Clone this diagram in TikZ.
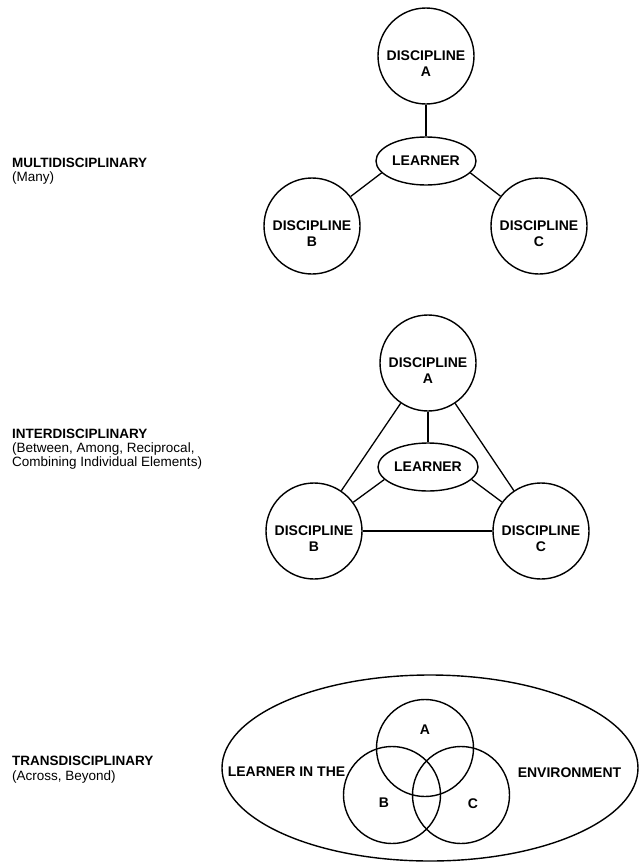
\documentclass[tikz,border=0pt]{standalone}
\usepackage{fontspec}
\setmainfont{Liberation Sans}
\usetikzlibrary{shapes.geometric}
\begin{document}
\begin{tikzpicture}[x=1pt,y=-1pt,
  conn/.style={line width=1.3pt},
  disc/.style={circle, draw, minimum size=96pt, inner sep=0pt, line width=1.4pt},
  vdisc/.style={circle, draw, minimum size=97pt, inner sep=0pt, line width=1.4pt},
  lrn/.style={ellipse, draw, minimum width=100pt, minimum height=48pt, inner sep=0pt, line width=1.4pt},
  env/.style={ellipse, draw, minimum width=416pt, minimum height=186pt, inner sep=0pt, line width=1.4pt},
  dtxt/.style={inner sep=0pt, font=\fontsize{14}{16}\selectfont\bfseries},
  head/.style={anchor=base west, inner sep=0pt, font=\fontsize{13.5}{15}\selectfont\bfseries},
  sub/.style={anchor=base west, inner sep=0pt, font=\fontsize{13.5}{15}\selectfont}]
\fill[white] (0,0) rectangle (642,865);
\useasboundingbox (0,0) rectangle (642,865);

% ---------- Multidisciplinary ----------
\node[head] (multi) at (12,167) {MULTIDISCIPLINARY};
\node[sub] (multisub) at (12,181) {(Many)};

\node[disc] (mA) at (426,56) {};
\node[lrn]  (mL) at (426,161) {};
\node[disc] (mB) at (312,226) {};
\node[disc] (mC) at (539,226) {};
\node[dtxt] (mAt) at (426,56) {DISCIPLINE};
\node[dtxt] (mAl) at (426,72) {A};
\node[dtxt] (mLt) at (426,161) {LEARNER};
\node[dtxt] (mBt) at (312,226) {DISCIPLINE};
\node[dtxt] (mBl) at (312,242) {B};
\node[dtxt] (mCt) at (539,226) {DISCIPLINE};
\node[dtxt] (mCl) at (539,242) {C};
\draw[conn] (mA) -- (mL);
\draw[conn] (mL.195) -- (mB);
\draw[conn] (mL.345) -- (mC);

% ---------- Interdisciplinary ----------
\node[head] (inter) at (12,438) {INTERDISCIPLINARY};
\node[sub] (intersub1) at (12,452) {(Between, Among, Reciprocal,};
\node[sub] (intersub2) at (12,466) {Combining Individual Elements)};

\node[disc] (iA) at (428,363) {};
\node[lrn]  (iL) at (428,467) {};
\node[disc] (iB) at (314,531) {};
\node[disc] (iC) at (541,531) {};
\node[dtxt] (iAt) at (428,363) {DISCIPLINE};
\node[dtxt] (iAl) at (428,379) {A};
\node[dtxt] (iLt) at (428,467) {LEARNER};
\node[dtxt] (iBt) at (314,531) {DISCIPLINE};
\node[dtxt] (iBl) at (314,547) {B};
\node[dtxt] (iCt) at (541,531) {DISCIPLINE};
\node[dtxt] (iCl) at (541,547) {C};
\draw[conn] (iA) -- (iL);
\draw[conn] (iA) -- (iB);
\draw[conn] (iA) -- (iC);
\draw[conn] (iL.196) -- (iB);
\draw[conn] (iL.344) -- (iC);
\draw[conn] (iB) -- (iC);

% ---------- Transdisciplinary ----------
\node[head] (trans) at (12,765) {TRANSDISCIPLINARY};
\node[sub] (transsub) at (12,780) {(Across, Beyond)};

\node[env] (env) at (430,768) {};
\node[vdisc] (tA) at (425,748) {};
\node[vdisc] (tB) at (392,795) {};
\node[vdisc] (tC) at (461,795) {};
\node[dtxt] (tAl) at (425,730) {A};
\node[dtxt] (tBl) at (384,803) {B};
\node[dtxt] (tCl) at (473,804) {C};
\node[dtxt] (envl) at (286.5,772) {LEARNER IN THE};
\node[dtxt] (envr) at (569.5,773) {ENVIRONMENT};
\end{tikzpicture}
\end{document}
